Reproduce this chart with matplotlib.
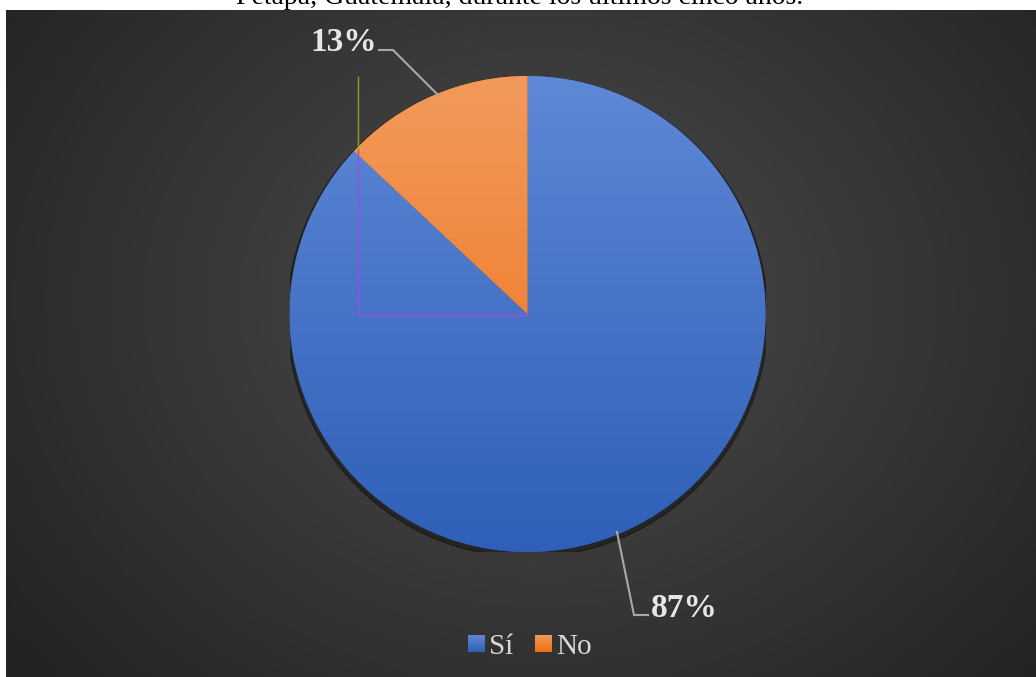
import numpy as np
import matplotlib
matplotlib.use("Agg")
import matplotlib.pyplot as plt
from matplotlib.colors import LinearSegmentedColormap

# Survey answers (percent)
categories = ["Sí", "No"]
values = [87, 13]
colors_top = ["#5F88D6", "#F29A5C"]
colors_bottom = ["#2F5FB8", "#EE6E14"]

title = "Petapa, Guatemala, durante los últimos cinco años."

W, H = 1036, 677
fig = plt.figure(figsize=(W / 100, H / 100), dpi=100)
fig.patch.set_facecolor("white")

# Full-figure background in pixel coordinates
bg = fig.add_axes([0, 0, 1, 1])
bg.set_xlim(0, W)
bg.set_ylim(H, 0)
bg.axis("off")

# Dark panel with a soft radial gradient
px0, px1, py0, py1 = 6, W, 10, H
yy, xx = np.mgrid[py0:py1, px0:px1]
cx, cy = 540, 300
d = np.sqrt(((xx - cx) / 620.0) ** 2 + ((yy - cy) / 520.0) ** 2)
shade = np.clip(0.30 - 0.15 * d, 0.14, 0.31)
img = np.dstack([shade, shade, shade])
bg.imshow(img, extent=(px0, px1, py1, py0), zorder=0, interpolation="bilinear")

# Title line (partly above the panel)
bg.text(520, 4, title, ha="center", va="baseline", fontsize=20,
        family="Liberation Serif", color="black", zorder=1)

# Pie axes placed by center/radius in pixels
pcx, pcy, r = 527.5, 314, 238
ax = fig.add_axes([(pcx - r) / W, 1 - (pcy + r) / H, 2 * r / W, 2 * r / H])
ax.axis("off")

# Shadow under the pie
shadow = plt.Circle((0.0, -0.012), 1.01, color="black", alpha=0.35, zorder=1)
ax.add_patch(shadow)

wedges, _ = ax.pie(values, startangle=90, counterclock=False, radius=1,
                   colors=colors_bottom, wedgeprops=dict(linewidth=0))
grad = np.linspace(0, 1, 256).reshape(-1, 1)
for w, ct, cb in zip(wedges, colors_top, colors_bottom):
    w.set_zorder(2)
    cmap = LinearSegmentedColormap.from_list("g", [ct, cb])
    im = ax.imshow(grad, cmap=cmap, extent=(-1, 1, -1, 1), aspect="auto",
                   zorder=3, origin="upper")
    im.set_clip_path(w)
ax.set_aspect("auto")
ax.set_xlim(-1, 1)
ax.set_ylim(-1, 1)

# Top overlay for labels, guides and legend
top = fig.add_axes([0, 0, 1, 1])
top.set_xlim(0, W)
top.set_ylim(H, 0)
top.axis("off")
top.patch.set_alpha(0)

# Thin guide lines around the small slice
top.plot([358, 358, 528], [150, 315, 315], color="#9B4DE0", lw=1, zorder=5)
top.plot([358, 358], [77, 150], color="#8FA020", lw=1, zorder=5)

# Data labels with leader lines
lab_color = "#E6E6E6"
lead = "#A8A8A8"
top.text(377, 51, f"{values[1]}%", ha="right", va="baseline", fontsize=24,
         fontweight="bold", family="Liberation Serif", color=lab_color, zorder=6)
top.plot([379, 393, 439], [50, 50, 96], color=lead, lw=1.5, zorder=6)

top.text(651, 617, f"{values[0]}%", ha="left", va="baseline", fontsize=24,
         fontweight="bold", family="Liberation Serif", color=lab_color, zorder=6)
top.plot([617, 634, 648], [532, 615, 615], color=lead, lw=1.5, zorder=6)

# Legend
sq = 17
items = [(468, categories[0], colors_top[0], colors_bottom[0]),
         (535, categories[1], colors_top[1], colors_bottom[1])]
for x0, name, ct, cb in items:
    cmap = LinearSegmentedColormap.from_list("l", [ct, cb])
    top.imshow(grad, cmap=cmap, extent=(x0, x0 + sq, 652, 635), aspect="auto",
               zorder=6)
    top.text(x0 + sq + 4, 654, name, ha="left", va="baseline", fontsize=21,
             family="Liberation Serif", color="#D9D9D9", zorder=6)

top.set_xlim(0, W)
top.set_ylim(H, 0)

fig.savefig("out.png", dpi=100, facecolor=fig.get_facecolor())
